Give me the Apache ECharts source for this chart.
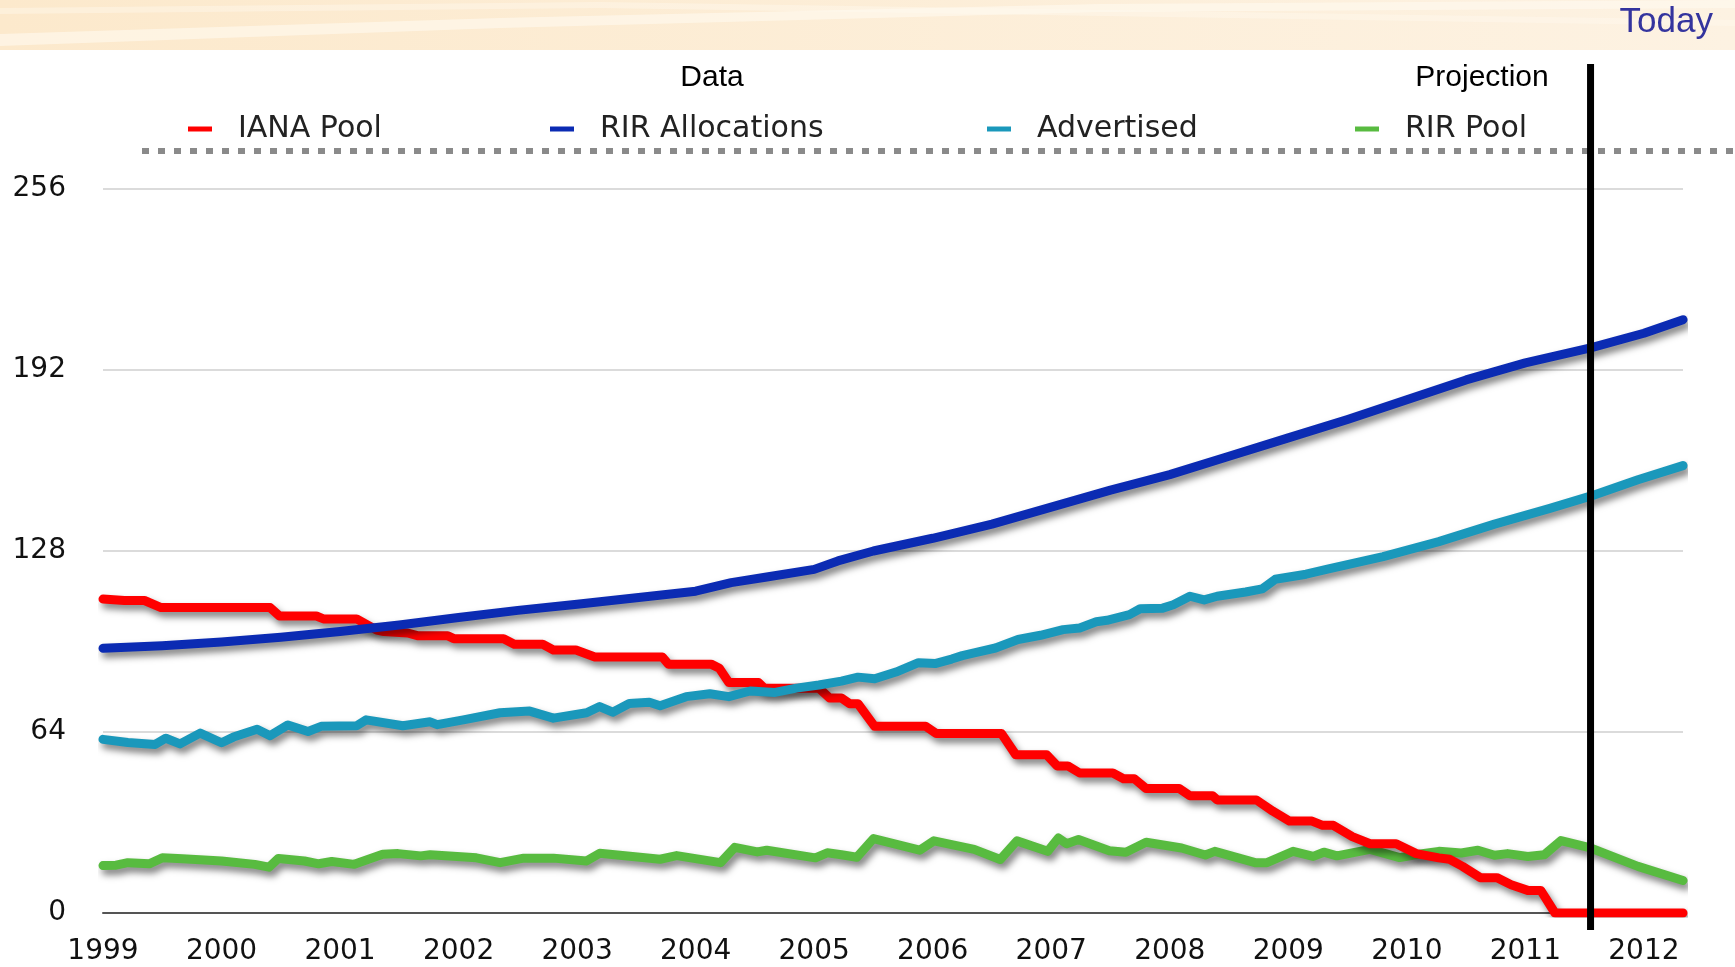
<!DOCTYPE html>
<html>
<head>
<meta charset="utf-8">
<title>IPv4 pools</title>
<script src="https://cdn.jsdelivr.net/npm/echarts@6/dist/echarts.min.js"></script>
<style>
  html, body { margin: 0; padding: 0; background: #fff; }
  #main { width: 1735px; height: 967px; }
</style>
</head>
<body>
<div id="main"></div>
<script>
// --- data (x in decimal years, y in /8 blocks) ---
var yTicks = [0, 64, 128, 192, 256];
var todayYear = 2011.55;

var ianaYears = [1999.00, 1999.18, 1999.35, 1999.49, 2000.41, 2000.49, 2000.80, 2000.86, 2001.14, 2001.31,
  2001.37, 2001.57, 2001.66, 2001.91, 2001.96, 2002.38, 2002.47, 2002.71, 2002.80, 2002.99,
  2003.15, 2003.72, 2003.77, 2004.13, 2004.20, 2004.28, 2004.53, 2004.58, 2005.04, 2005.13,
  2005.23, 2005.30, 2005.37, 2005.51, 2005.94, 2006.03, 2006.58, 2006.70, 2006.96, 2007.05,
  2007.14, 2007.24, 2007.52, 2007.61, 2007.70, 2007.80, 2008.08, 2008.17, 2008.36, 2008.40,
  2008.73, 2008.87, 2009.01, 2009.20, 2009.29, 2009.38, 2009.48, 2009.54, 2009.69, 2009.91,
  2010.08, 2010.27, 2010.36, 2010.47, 2010.62, 2010.76, 2010.88, 2011.02, 2011.13, 2011.25, 2012.33];
var ianaValues = [111, 110.5, 110.5, 108, 108, 105, 105, 104, 104, 100,
  99.5, 99, 98, 98, 97, 97, 95, 95, 93, 93,
  90.5, 90.5, 88, 88, 86.5, 81.5, 81.5, 79.5, 79.5, 76,
  76, 74, 74, 66, 66, 63.5, 63.5, 56, 56, 52,
  52, 49.5, 49.5, 47.5, 47.5, 44, 44, 41.5, 41.5, 40,
  40, 36, 32.5, 32.5, 31, 31, 28.5, 27, 24.5, 24.5,
  21, 19.5, 19, 16.5, 12.5, 12.5, 10, 8, 8, 0, 0];

var rirYears = [1999.0, 1999.5, 2000.0, 2000.5, 2001.0, 2001.5, 2002.0, 2002.5, 2003.0, 2003.5,
  2004.0, 2004.3, 2004.6, 2005.0, 2005.2, 2005.5, 2006.0, 2006.5, 2007.0, 2007.5,
  2008.0, 2008.5, 2009.0, 2009.5, 2010.0, 2010.5, 2011.0, 2011.55, 2012.0, 2012.33];
var rirValues = [93.6, 94.5, 95.8, 97.5, 99.5, 101.8, 104.5, 107, 109.2, 111.5,
  113.8, 116.8, 118.8, 121.5, 124.5, 128, 132.5, 137.5, 143.5, 149.5,
  155, 161.5, 168, 174.5, 181.5, 188.5, 194.5, 199.8, 205, 209.8];

var advYears = [1999.00, 1999.21, 1999.44, 1999.53, 1999.65, 1999.82, 2000.00, 2000.10, 2000.30, 2000.41,
  2000.56, 2000.73, 2000.84, 2001.14, 2001.22, 2001.53, 2001.76, 2001.82, 2002.04, 2002.35,
  2002.60, 2002.80, 2003.08, 2003.19, 2003.30, 2003.44, 2003.61, 2003.70, 2003.92, 2004.12,
  2004.28, 2004.46, 2004.67, 2004.85, 2005.04, 2005.23, 2005.37, 2005.51, 2005.69, 2005.88,
  2006.02, 2006.16, 2006.25, 2006.35, 2006.53, 2006.72, 2006.91, 2007.10, 2007.24, 2007.38,
  2007.47, 2007.66, 2007.75, 2007.94, 2008.03, 2008.17, 2008.29, 2008.40, 2008.64, 2008.78,
  2008.89, 2009.15, 2009.34, 2009.80, 2010.27, 2010.74, 2011.20, 2011.55, 2011.95, 2012.33];
var advValues = [61.4, 60.3, 59.6, 61.8, 59.8, 63.6, 60.2, 62.2, 65, 62.7,
  66.5, 64.2, 66, 66.2, 68.3, 66.2, 67.6, 66.6, 68.3, 70.8,
  71.4, 68.9, 70.8, 73, 71, 74.1, 74.5, 73.3, 76.5, 77.5,
  76.5, 78.5, 78, 79.5, 80.6, 82, 83.4, 82.8, 85.2, 88.5,
  88.2, 89.8, 91, 92, 93.7, 96.7, 98.2, 100.2, 100.8, 103,
  103.5, 105.5, 107.6, 107.8, 109, 112, 110.7, 112, 113.5, 114.6,
  118, 119.8, 121.7, 126, 131.3, 137.5, 143, 147.4, 153.2, 158.2];

var poolYears = [1999.00, 1999.11, 1999.21, 1999.39, 1999.50, 1999.67, 2000.00, 2000.28, 2000.40, 2000.48,
  2000.70, 2000.82, 2000.93, 2001.12, 2001.36, 2001.49, 2001.68, 2001.76, 2002.15, 2002.35,
  2002.55, 2002.80, 2003.08, 2003.19, 2003.70, 2003.84, 2004.21, 2004.33, 2004.52, 2004.60,
  2005.01, 2005.11, 2005.23, 2005.36, 2005.50, 2005.89, 2006.01, 2006.35, 2006.57, 2006.71,
  2006.97, 2007.06, 2007.13, 2007.23, 2007.49, 2007.63, 2007.80, 2008.10, 2008.30, 2008.38,
  2008.72, 2008.82, 2009.04, 2009.21, 2009.30, 2009.41, 2009.69, 2009.94, 2010.13, 2010.27,
  2010.46, 2010.60, 2010.74, 2010.85, 2011.02, 2011.16, 2011.30, 2011.55, 2011.95, 2012.33];
var poolValues = [16.8, 16.9, 17.8, 17.4, 19.5, 19.2, 18.4, 17.2, 16.2, 19.3,
  18.4, 17.4, 18.2, 17.2, 20.8, 21, 20.2, 20.6, 19.5, 17.8,
  19.4, 19.4, 18.4, 21.1, 19, 20.3, 17.8, 23.2, 21.6, 22.2,
  19.5, 21.3, 20.6, 19.7, 26.3, 22.2, 25.5, 22.5, 18.9, 25.5,
  21.8, 26.5, 24.5, 26, 22, 21.5, 25, 23, 20.5, 21.8,
  17.8, 17.8, 21.8, 20, 21.5, 20.2, 22.5, 19.6, 21, 21.8,
  21.2, 22.2, 20.4, 21, 20, 20.6, 25.6, 23, 16.5, 11.5];

function zip(xs, ys) {
  return xs.map(function (x, i) { return [x, ys[i]]; });
}

var myChart = echarts.init(document.getElementById('main'));

var shadow = { shadowColor: 'rgba(0,0,0,0.5)', shadowBlur: 7, shadowOffsetX: 3, shadowOffsetY: 5 };
function lineSeries(name, color, data, z) {
  return {
    name: name, type: 'line', data: data, symbol: 'none', z: z,
    itemStyle: { color: color },
    lineStyle: Object.assign({ color: color, width: 9, cap: 'round', join: 'round' }, shadow),
    emphasis: { disabled: true }
  };
}

var legendFont = { fontFamily: 'DejaVu Sans', fontSize: 30, color: '#222', padding: [0, 0, 0, 21] };
function legendAt(name, left) {
  return {
    data: [name], left: left, top: 114, padding: 0,
    icon: 'rect', itemWidth: 24, itemHeight: 5,
    textStyle: legendFont, selectedMode: false
  };
}

var option = {
  animation: false,
  backgroundColor: '#fff',
  grid: { left: 103, right: 52, top: 189, bottom: 54 },
  legend: [
    legendAt('IANA Pool', 188),
    legendAt('RIR Allocations', 550),
    legendAt('Advertised', 987),
    legendAt('RIR Pool', 1355)
  ],
  xAxis: {
    type: 'value', min: 1999, max: 2012.33, interval: 1,
    axisLine: { show: true, lineStyle: { color: '#555', width: 2 } },
    axisTick: { show: false },
    splitLine: { show: false },
    axisLabel: {
      margin: 25, color: '#111', fontFamily: 'DejaVu Sans', fontSize: 28,
      formatter: function (v) { return Math.abs(v - Math.round(v)) < 1e-6 ? String(Math.round(v)) : ''; }
    }
  },
  yAxis: {
    type: 'value', min: yTicks[0], max: yTicks[yTicks.length - 1], interval: yTicks[1] - yTicks[0],
    axisLine: { show: false },
    axisTick: { show: false },
    splitLine: { lineStyle: { color: '#cfcfcf', width: 1.5 } },
    axisLabel: { margin: 37, color: '#111', fontFamily: 'DejaVu Sans', fontSize: 28 }
  },
  series: [
    lineSeries('IANA Pool', '#ff0000', zip(ianaYears, ianaValues), 3),
    lineSeries('RIR Allocations', '#0b2bb3', zip(rirYears, rirValues), 3),
    lineSeries('Advertised', '#1a98bb', zip(advYears, advValues), 4),
    lineSeries('RIR Pool', '#58bb40', zip(poolYears, poolValues), 2)
  ]
};

myChart.setOption(option);

// decorations: header band, titles, dotted separator, "today" line
var todayX = myChart.convertToPixel({ xAxisIndex: 0 }, todayYear);
myChart.setOption({
  graphic: [
    { type: 'rect', z: 0, shape: { x: 0, y: 0, width: 1735, height: 50 },
      style: { fill: new echarts.graphic.LinearGradient(0, 0, 1, 0, [
        { offset: 0, color: '#fce9cc' }, { offset: 1, color: '#fdf2e2' }]) } },
    { type: 'polygon', z: 1, shape: { points: [[0, 34], [500, 18], [1100, 4], [1735, 0], [1735, 8], [1100, 12], [500, 28], [0, 46]] },
      style: { fill: 'rgba(255,250,240,0.6)' } },
    { type: 'polygon', z: 1, shape: { points: [[0, 8], [600, 2], [1735, 20], [1735, 26], [600, 8], [0, 14]] },
      style: { fill: 'rgba(255,250,240,0.4)' } },
    { type: 'text', z: 10, style: { text: 'Today', x: 1713, y: 22, align: 'right', verticalAlign: 'middle',
      fill: '#34349e', font: '35px "Liberation Sans"' } },
    { type: 'text', z: 10, style: { text: 'Data', x: 712, y: 78, align: 'center', verticalAlign: 'middle',
      fill: '#000', font: '30px "Liberation Sans"' } },
    { type: 'text', z: 10, style: { text: 'Projection', x: 1482, y: 78, align: 'center', verticalAlign: 'middle',
      fill: '#000', font: '30px "Liberation Sans"' } },
    { type: 'line', z: 5, shape: { x1: 142, y1: 151, x2: 1735, y2: 151 },
      style: { stroke: '#8a8a8a', lineWidth: 6, lineDash: [7, 9] } },
    { type: 'line', z: 20, shape: { x1: todayX, y1: 64, x2: todayX, y2: 930 },
      style: { stroke: '#000', lineWidth: 7 } }
  ]
});
</script>
</body>
</html>
